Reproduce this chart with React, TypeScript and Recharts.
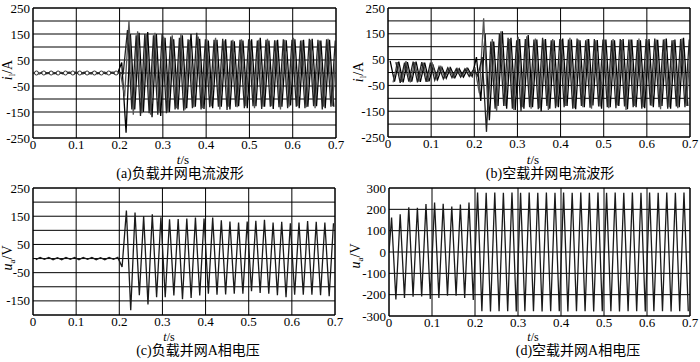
import { LineChart, Line, XAxis, YAxis, CartesianGrid, ReferenceArea } from 'recharts';

const SERIF = '"Times New Roman", "Liberation Serif", "DejaVu Serif", serif';
const CJK = '"Times New Roman", "Liberation Serif", "Noto Sans CJK SC", serif';

// axis ticks
const timeTicks = [0, 0.1, 0.2, 0.3, 0.4, 0.5, 0.6, 0.7];
const currentGrid = [-250, -200, -150, -100, -50, 0, 50, 100, 150, 200, 250];
const currentLabels = [-250, -150, -50, 50, 150, 250];
const loadVoltGrid = [-200, -150, -100, -50, 0, 50, 100, 150, 200, 250];
const loadVoltLabels = [-150, -50, 50, 150, 250];
const idleVoltGrid = [-300, -200, -100, 0, 100, 200, 300];

// successive peaks/troughs of the 50 Hz waveforms, one every 10 ms
const HALF = 0.01;

// (a) grid-connection current with load, phases A/B/C
const aPhaseA = [3, -3, 3, -2, 3, -3, 2, -3, 3, -3, 3, -3, 2, -3, 3, -3, 3, -2, 3, -3,
  40, -230, 150, -140, 155, -150, 158, -170, 150, -165,
  135, -150, 130, -140, 145, -135, 150, -130, 132, -138,
  125, -135, 128, -130, 130, -140, 122, -128, 125, -135,
  130, -128, 135, -130, 125, -138, 128, -130, 126, -125,
  130, -135, 128, -130, 132, -128, 125, -135, 128, -130];
const aPhaseB = [-3, 3, -3, 3, -2, 3, -3, 3, -3, 2, -3, 3, -3, 3, -2, 3, -3, 3, -3, 2,
  -90, 200, -160, 160, -155, 150, -160, 155, -150, 140,
  -150, 145, -135, 150, -140, 128, -132, 140, -135, 130,
  -128, 135, -140, 125, -130, 128, -132, 130, -128, 125,
  -135, 128, -130, 132, -128, 125, -140, 128, -130, 135,
  -128, 126, -132, 128, -135, 125, -130, 132, -128, 128];
const aPhaseC = [3, -3, 2, -3, 3, -3, 3, -2, 3, -3, 3, -3, 3, -3, 2, -3, 3, -3, 3, -3,
  165, -140, 145, -165, 150, -155, 145, -160, 150, -155,
  140, -140, 135, -145, 130, -135, 155, -140, 130, -132,
  128, -130, 132, -142, 125, -130, 128, -135, 130, -128,
  125, -138, 128, -130, 126, -132, 130, -135, 128, -130,
  125, -135, 132, -128, 128, -140, 130, -130, 125, -135];
const aMarkerTimes = [0.008, 0.025, 0.042, 0.058, 0.075, 0.092, 0.108, 0.125, 0.142, 0.158, 0.175, 0.192];
const aMarkerValues = [0, 0, 0, 0, 0, 0, 0, 0, 0, 0, 0, 0];

// (b) grid-connection current without load
const bPhaseA = [45, -35, 42, -38, 40, -35, 42, -36, 38, -34,
  25, -28, 20, -22, 18, -20, 15, -18, 16, -15,
  60, -110, 150, -185, 120, -130, 160, -140, 135, -145,
  130, -140, 145, -135, 128, -150, 130, -140, 125, -135,
  132, -130, 128, -142, 125, -135, 130, -128, 126, -140,
  128, -135, 125, -130, 130, -142, 128, -135, 125, -138,
  130, -135, 127, -130, 132, -140, 128, -135, 135, -130];
const bPhaseB = [-38, 40, -36, 44, -38, 40, -35, 38, -36, 40,
  -25, 22, -20, 18, -18, 15, -15, 16, -12, 15,
  -80, 210, -150, 130, -150, 160, -130, 130, -145, 138,
  -135, 140, -140, 132, -138, 128, -145, 130, -132, 128,
  -130, 135, -138, 128, -135, 130, -140, 125, -132, 128,
  -138, 130, -128, 126, -145, 128, -130, 132, -135, 125,
  -130, 128, -142, 130, -135, 126, -138, 132, -130, 128];
const bPhaseC = [40, -40, 38, -35, 42, -38, 40, -36, 38, -30,
  22, -25, 18, -20, 15, -18, 14, -15, 12, -14,
  60, -230, 120, -140, 150, -130, 135, -140, 125, -150,
  130, -135, 128, -142, 135, -130, 125, -138, 130, -135,
  128, -140, 132, -130, 125, -136, 130, -132, 128, -135,
  125, -138, 130, -132, 128, -135, 126, -140, 130, -128,
  132, -135, 128, -140, 125, -132, 130, -135, 128, -138];

// (c) phase-A voltage with load
const cVoltage = [-4, 4, -3, 4, -4, 3, -4, 4, -3, 4, -4, 4, -3, 4, -4, 3, -4, 4, -3, 4,
  -30, 170, -183, 163, -130, 151, -163, 157, -137, 146,
  -137, 139, -131, 140, -144, 142, -140, 145, -131, 142,
  -125, 145, -128, 136, -127, 131, -125, 128, -125, 131,
  -116, 134, -122, 137, -125, 128, -130, 130, -137, 125,
  -128, 128, -128, 133, -128, 130, -130, 128, -133, 125];

// (d) phase-A voltage without load
const dStart = 0;
const dVoltage = [162, -223, 177, -215, 210, -210, 207, -208, 225, -220,
  232, -215, 226, -205, 213, -205, 223, -215, 232, -225,
  279, -278, 278, -279, 279, -278, 278, -278, 279, -279,
  278, -278, 279, -278, 278, -279, 279, -278, 278, -278,
  279, -279, 278, -278, 279, -278, 278, -279, 279, -278,
  278, -278, 279, -279, 278, -278, 279, -278, 278, -279,
  279, -278, 278, -278, 279, -279, 278, -278, 279, -278];

type Pt = { t: number; v: number };
const wave = (vals: number[], t0: number): Pt[] =>
  vals.map((v, i) => ({ t: +(t0 + i * HALF).toFixed(4), v }));

type Trace = { data: Pt[]; color: string };

interface PanelProps {
  left: number;
  top: number;
  height: number;
  yWidth: number;
  right: number;
  xHeight: number;
  yDomain: [number, number];
  yTicks: number[];
  yLabels: number[];
  traces: Trace[];
  markers?: Pt[];
}

function Panel(p: PanelProps) {
  const yTick = (props: any) => {
    const { x, y, payload } = props;
    if (!p.yLabels.includes(payload.value)) return <g />;
    return (
      <text x={x} y={y} dy="0.35em" textAnchor="end" fontSize={13} fill="#000" fontFamily={SERIF}>
        {payload.value}
      </text>
    );
  };
  return (
    <div style={{ position: 'absolute', left: p.left, top: p.top }}>
      <LineChart width={350} height={p.height} margin={{ top: 8, right: p.right, bottom: 0, left: 0 }}>
        <CartesianGrid stroke="#000" strokeWidth={1} />
        <XAxis
          type="number"
          dataKey="t"
          domain={[0, 0.7]}
          ticks={timeTicks}
          interval={0}
          tickSize={0}
          tickMargin={2}
          axisLine={false}
          height={p.xHeight}
          allowDataOverflow
          tick={{ fontSize: 13, fill: '#000', fontFamily: SERIF }}
        />
        <YAxis
          type="number"
          dataKey="v"
          domain={p.yDomain}
          ticks={p.yTicks}
          interval={0}
          tickSize={0}
          tickMargin={3}
          axisLine={false}
          width={p.yWidth}
          allowDataOverflow
          tick={yTick}
        />
        <ReferenceArea x1={0} x2={0.7} y1={p.yDomain[0]} y2={p.yDomain[1]} fill="none" stroke="#000" strokeWidth={1} />
        {p.traces.map((tr, i) => (
          <Line
            key={i}
            data={tr.data}
            dataKey="v"
            type="linear"
            stroke={tr.color}
            strokeWidth={1.3}
            dot={false}
            isAnimationActive={false}
          />
        ))}
        {p.markers && (
          <Line
            data={p.markers}
            dataKey="v"
            stroke="none"
            dot={{ r: 2, fill: '#fff', stroke: '#333', strokeWidth: 1 }}
            isAnimationActive={false}
          />
        )}
      </LineChart>
    </div>
  );
}

function YTitle({ x, y, sym, sub, unit }: { x: number; y: number; sym: string; sub: string; unit: string }) {
  return (
    <div
      style={{
        position: 'absolute',
        left: x,
        top: y,
        transform: 'translate(-50%, -50%) rotate(-90deg)',
        whiteSpace: 'nowrap',
        fontSize: 14,
        fontFamily: SERIF,
        lineHeight: '14px',
      }}
    >
      <i>{sym}</i>
      <span style={{ fontSize: 9, position: 'relative', top: 3 }}>{sub}</span>/{unit}
    </div>
  );
}

function Text({ x, y, children, font = SERIF, size = 14 }: { x: number; y: number; children: any; font?: string; size?: number }) {
  return (
    <div
      style={{
        position: 'absolute',
        left: x,
        top: y,
        transform: 'translate(-50%, -50%)',
        whiteSpace: 'nowrap',
        fontSize: size,
        fontFamily: font,
        lineHeight: `${size}px`,
      }}
    >
      {children}
    </div>
  );
}

export default function App() {
  const markers = aMarkerTimes.map((t, i) => ({ t, v: aMarkerValues[i] }));
  return (
    <div style={{ position: 'absolute', left: 0, top: 0, width: 700, height: 362, background: '#fff', color: '#000' }}>
      <Panel
        left={0}
        top={0}
        height={180}
        yWidth={33}
        right={14}
        xHeight={42}
        yDomain={[-250, 250]}
        yTicks={currentGrid}
        yLabels={currentLabels}
        traces={[
          { data: wave(aPhaseA, 0.005), color: '#000' },
          { data: wave(aPhaseB, 0.0117), color: '#555' },
          { data: wave(aPhaseC, 0.0183), color: '#222' },
        ]}
        markers={markers}
      />
      <Panel
        left={350}
        top={0}
        height={180}
        yWidth={38}
        right={10}
        xHeight={43}
        yDomain={[-250, 250]}
        yTicks={currentGrid}
        yLabels={currentLabels}
        traces={[
          { data: wave(bPhaseA, 0.005), color: '#000' },
          { data: wave(bPhaseB, 0.0117), color: '#555' },
          { data: wave(bPhaseC, 0.0183), color: '#222' },
        ]}
      />
      <Panel
        left={0}
        top={180}
        height={182}
        yWidth={33}
        right={15}
        xHeight={47}
        yDomain={[-200, 250]}
        yTicks={loadVoltGrid}
        yLabels={loadVoltLabels}
        traces={[{ data: wave(cVoltage, 0.0065), color: '#1a1a1a' }]}
      />
      <Panel
        left={350}
        top={180}
        height={182}
        yWidth={39}
        right={10}
        xHeight={46}
        yDomain={[-300, 300]}
        yTicks={idleVoltGrid}
        yLabels={idleVoltGrid}
        traces={[{ data: [{ t: 0, v: dStart }, ...wave(dVoltage, 0.006)], color: '#1a1a1a' }]}
      />

      <YTitle x={8} y={70} sym="i" sub="l" unit="A" />
      <YTitle x={359} y={72} sym="i" sub="l" unit="A" />
      <YTitle x={8} y={258} sym="u" sub="a" unit="V" />
      <YTitle x={356} y={256} sym="u" sub="a" unit="V" />

      <Text x={183} y={159} size={13}><i>t</i>/s</Text>
      <Text x={533} y={159} size={13}><i>t</i>/s</Text>
      <Text x={169} y={337} size={12}><i>t</i>/s</Text>
      <Text x={533} y={337} size={12}><i>t</i>/s</Text>

      <Text x={180} y={174} font={CJK}>(a)负载并网电流波形</Text>
      <Text x={550} y={174} font={CJK}>(b)空载并网电流波形</Text>
      <Text x={198} y={351} font={CJK}>(c)负载并网A相电压</Text>
      <Text x={578} y={351} font={CJK}>(d)空载并网A相电压</Text>
    </div>
  );
}
